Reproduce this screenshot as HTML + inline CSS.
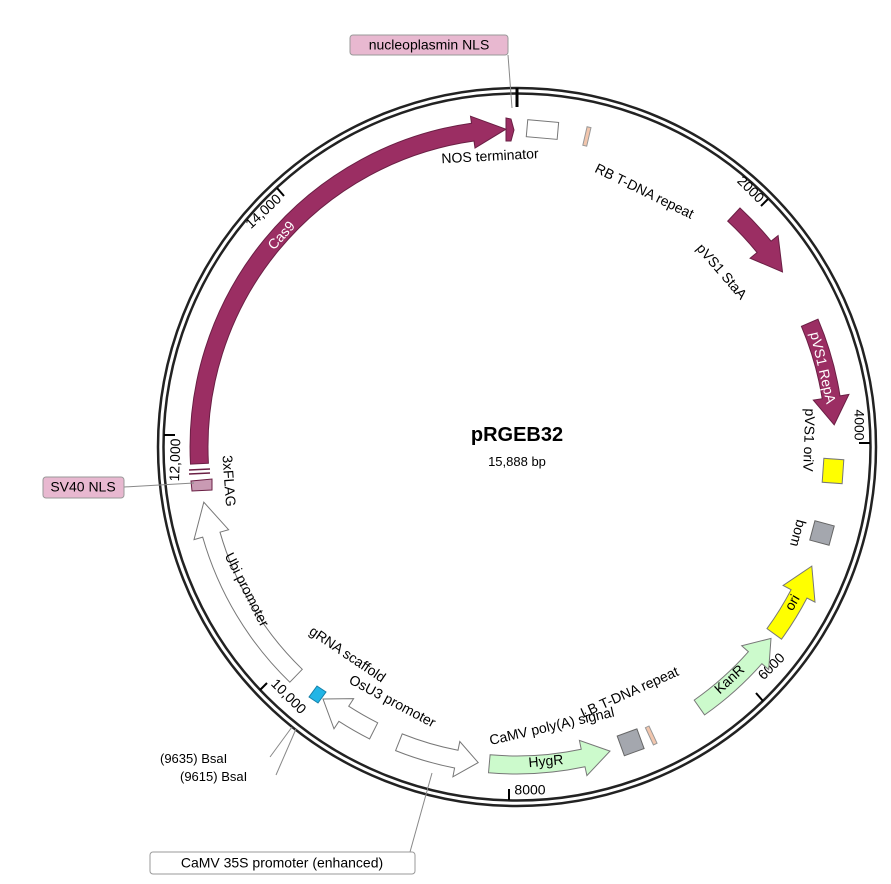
<!DOCTYPE html>
<html><head><meta charset="utf-8"><style>
html,body{margin:0;padding:0;background:#fff;}
svg{display:block;font-family:"Liberation Sans","DejaVu Sans",sans-serif;}
text{font-size:14px;fill:#000;}
</style></head><body>
<svg width="891" height="884" viewBox="0 0 891 884" xmlns="http://www.w3.org/2000/svg">
<circle cx="517" cy="447" r="359" fill="none" stroke="#222" stroke-width="2.5"/>
<circle cx="517" cy="447" r="353.5" fill="none" stroke="#222" stroke-width="2.5"/>
<line x1="517" y1="88" x2="517" y2="107" stroke="#000" stroke-width="3"/>
<g stroke="#000" stroke-width="2">
<line x1="768" y1="199" x2="761" y2="206"/>
<line x1="870" y1="443" x2="859" y2="443"/>
<line x1="763" y1="701" x2="756" y2="693"/>
<line x1="509" y1="800" x2="509" y2="789"/>
<line x1="260" y1="690" x2="267" y2="683"/>
<line x1="164" y1="435" x2="175" y2="435"/>
<line x1="277" y1="188" x2="284" y2="196"/>
</g>
<text x="750" y="190" text-anchor="middle" dominant-baseline="middle" transform="rotate(45 750 190)">2000</text>
<text x="858" y="425" text-anchor="middle" dominant-baseline="middle" transform="rotate(90 858 425)">4000</text>
<text x="772" y="667" text-anchor="middle" dominant-baseline="middle" transform="rotate(-45 772 667)">6000</text>
<text x="530" y="791" text-anchor="middle" dominant-baseline="middle">8000</text>
<text x="288" y="697" text-anchor="middle" dominant-baseline="middle" transform="rotate(45 288 697)">10,000</text>
<text x="176" y="460" text-anchor="middle" dominant-baseline="middle" transform="rotate(-88 176 460)">12,000</text>
<text x="264" y="212" text-anchor="middle" dominant-baseline="middle" transform="rotate(-43 264 212)">14,000</text>

<path d="M208.4,463.2 L190.5,464.1 A327 327 0 0 1 471.5,123.2 L470.5,116.2 L505.9,129.2 L475,148 L474,141 A309 309 0 0 0 208.4,463.2 Z" fill="#9b2e63" stroke="#6a1f44" stroke-width="1"/>
<text x="282" y="236" text-anchor="middle" dominant-baseline="middle" transform="rotate(-48 282 236)" style="fill:#fff">Cas9</text>
<path d="M506,118 L511,119 L514,130 L511,141 L506,141 Z" fill="#9b2e63" stroke="#6a1f44"/>
<rect x="527" y="121" width="31" height="17" fill="#fff" stroke="#777" transform="rotate(5 542 129)"/>
<rect x="585" y="127" width="4" height="19" fill="#f2c6ad" stroke="#999" transform="rotate(13 587 136)"/>
<path d="M727.7,221.1 L740,208 A327 327 0 0 1 771.1,241.2 L778.1,235.6 L782.5,271.9 L750.1,258.2 L757.1,252.5 A309 309 0 0 0 727.7,221.1 Z" fill="#9b2e63" stroke="#6a1f44"/>
<path d="M801.4,326.3 L818,319.2 A327 327 0 0 1 840,395.9 L848.9,394.4 L834.2,424.8 L813.3,400.1 L822.2,398.7 A309 309 0 0 0 801.4,326.3 Z" fill="#9b2e63" stroke="#6a1f44"/>
<text x="822" y="368" text-anchor="middle" dominant-baseline="middle" transform="rotate(77 822 368)" style="fill:#fff">pVS1 RepA</text>
<rect x="823" y="459" width="20" height="24" fill="#ffff00" stroke="#777" transform="rotate(4 833 471)"/>
<rect x="812" y="523" width="20" height="20" fill="#a4a7ae" stroke="#666" transform="rotate(15 822 533)"/>
<path d="M767,628.6 L781.5,639.2 A327 327 0 0 0 807,598 L815,602.1 L811.8,566.1 L783.1,585.5 L791.1,589.7 A309 309 0 0 1 767,628.6 Z" fill="#ffff00" stroke="#777"/>
<text x="793" y="603" text-anchor="middle" dominant-baseline="middle" transform="rotate(-60 793 603)">ori</text>
<path d="M694.2,700.1 L704.6,714.9 A327 327 0 0 0 761.9,663.7 L768.7,669.6 L771,638.4 L741.7,645.8 L748.4,651.7 A309 309 0 0 1 694.2,700.1 Z" fill="#ccfacc" stroke="#777"/>
<text x="730" y="680" text-anchor="middle" dominant-baseline="middle" transform="rotate(-43 730 680)">KanR</text>
<rect x="649" y="726" width="4" height="19" fill="#f2c6ad" stroke="#999" transform="rotate(-25 651 735)"/>
<rect x="620" y="732" width="21" height="21" fill="#a4a7ae" stroke="#666" transform="rotate(-20 630 742)"/>
<path d="M490.1,754.8 L488.5,772.8 A327 327 0 0 0 585,766.8 L586.9,775.6 L610,751.1 L579.4,740.4 L581.2,749.2 A309 309 0 0 1 490.1,754.8 Z" fill="#ccfacc" stroke="#777"/>
<text x="546" y="762" text-anchor="middle" dominant-baseline="middle" transform="rotate(-5 546 762)">HygR</text>
<path d="M402.2,733.9 L395.6,750.6 A327 327 0 0 0 454.6,768 L452.9,776.8 L478.2,762.6 L459.8,741.5 L458,750.3 A309 309 0 0 1 402.2,733.9 Z" fill="#fff" stroke="#777"/>
<path d="M377.7,722.8 L369.6,738.9 A327 327 0 0 1 338.9,721.3 L334,728.8 L323,699 L353.6,698.6 L348.7,706.2 A309 309 0 0 0 377.7,722.8 Z" fill="#fff" stroke="#777"/>
<path d="M309,697 L318,703 L326,692 L317,686 Z" fill="#22b5e6" stroke="#1580a8"/>
<path d="M302.3,669.3 L289.8,682.2 A327 327 0 0 1 202.7,537.1 L194,539.6 L203.8,502.2 L228.6,529.7 L220,532.2 A309 309 0 0 0 302.3,669.3 Z" fill="#fff" stroke="#777"/>
<path d="M191,481 L212,479 L212,490 L192,491 Z" fill="#c99ab3" stroke="#6a1f44"/>
<line x1="189" y1="470" x2="210" y2="469" stroke="#6a1f44" stroke-width="1.5"/>
<line x1="189" y1="474" x2="210" y2="473" stroke="#6a1f44" stroke-width="1.5"/>

<text x="490" y="157" text-anchor="middle" dominant-baseline="middle" transform="rotate(-3 490 157)">NOS terminator</text>
<text x="644" y="192" text-anchor="middle" dominant-baseline="middle" transform="rotate(26 644 192)">RB T-DNA repeat</text>
<text x="721" y="272" text-anchor="middle" dominant-baseline="middle" transform="rotate(49 721 272)">pVS1 StaA</text>
<text x="808" y="440" text-anchor="middle" dominant-baseline="middle" transform="rotate(92 808 440)">pVS1 oriV</text>
<text x="797" y="533" text-anchor="middle" dominant-baseline="middle" transform="rotate(105 797 533)">bom</text>
<text x="630" y="693" text-anchor="middle" dominant-baseline="middle" transform="rotate(-24 630 693)">LB T-DNA repeat</text>
<text x="552" y="727" text-anchor="middle" dominant-baseline="middle" transform="rotate(-13 552 727)">CaMV poly(A) signal</text>
<text x="392" y="702" text-anchor="middle" dominant-baseline="middle" transform="rotate(28 392 702)">OsU3 promoter</text>
<text x="347" y="655" text-anchor="middle" dominant-baseline="middle" transform="rotate(34 347 655)">gRNA scaffold</text>
<text x="246" y="590" text-anchor="middle" dominant-baseline="middle" transform="rotate(63 246 590)">Ubi promoter</text>
<text x="228" y="481" text-anchor="middle" dominant-baseline="middle" transform="rotate(86 228 481)">3xFLAG</text>

<text x="517" y="441" text-anchor="middle" style="font-size:20px;font-weight:bold">pRGEB32</text>
<text x="517" y="466" text-anchor="middle" style="font-size:13px">15,888 bp</text>

<line x1="508" y1="55" x2="512" y2="108" stroke="#888"/>
<rect x="350" y="35" width="158" height="20" rx="3" fill="#e8b8d0" stroke="#999"/>
<text x="429" y="46" text-anchor="middle" dominant-baseline="middle">nucleoplasmin NLS</text>
<line x1="124" y1="487" x2="194" y2="483" stroke="#888"/>
<rect x="43" y="477" width="81" height="21" rx="3" fill="#e8b8d0" stroke="#999"/>
<text x="83" y="488" text-anchor="middle" dominant-baseline="middle">SV40 NLS</text>
<line x1="410" y1="852" x2="432" y2="773" stroke="#888"/>
<rect x="150" y="852" width="265" height="22" rx="3" fill="#fff" stroke="#999"/>
<text x="282" y="864" text-anchor="middle" dominant-baseline="middle">CaMV 35S promoter (enhanced)</text>
<line x1="270" y1="757" x2="292" y2="727" stroke="#888"/>
<line x1="276" y1="775" x2="296" y2="729" stroke="#888"/>
<text x="160" y="763" style="font-size:13px">(9635)  BsaI</text>
<text x="180" y="781" style="font-size:13px">(9615)  BsaI</text>
</svg>
</body></html>
